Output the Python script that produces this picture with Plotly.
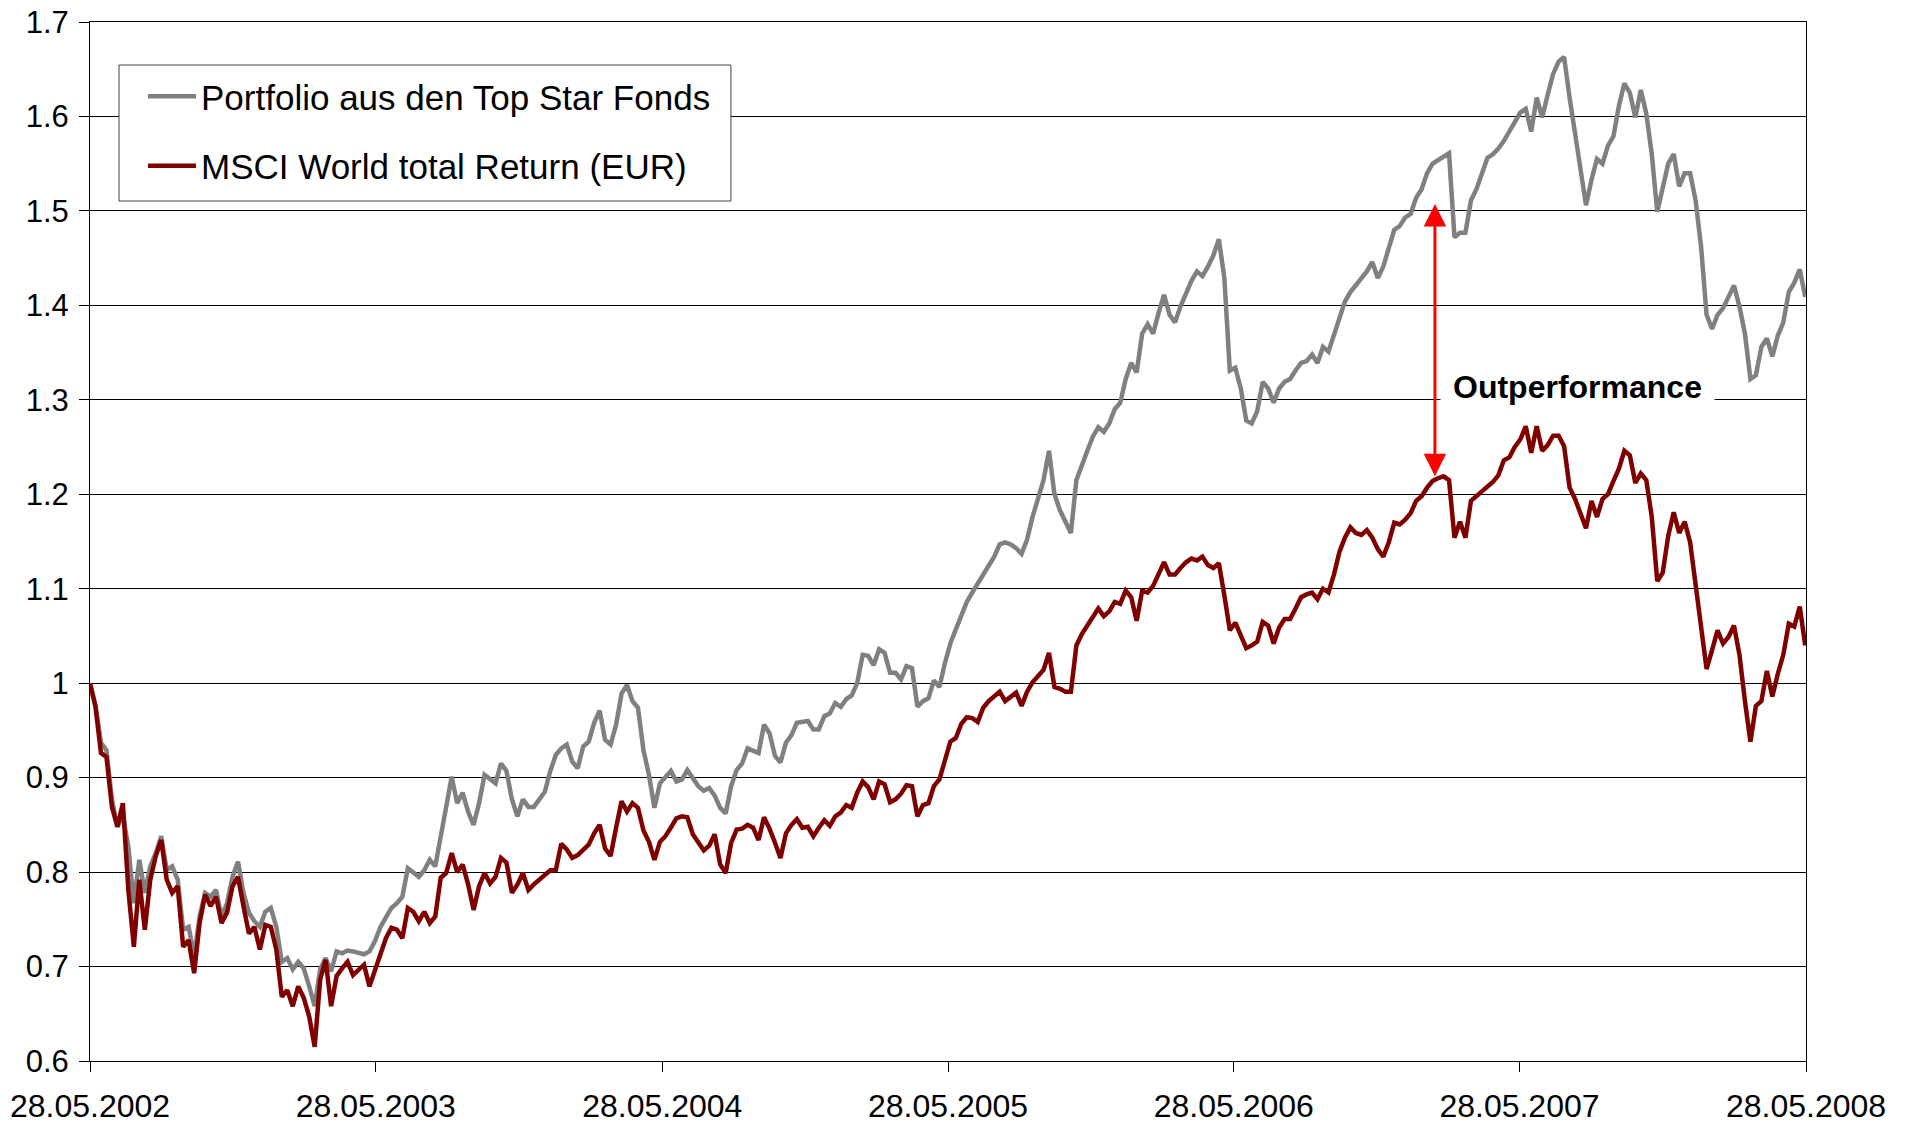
import plotly.graph_objects as go
import pandas as pd

# weekly observation dates (28.05.2002 .. 27.05.2008)
dates = pd.date_range("2002-05-28", periods=314, freq="7D")

portfolio = [
    1.00, 0.977, 0.937, 0.929, 0.877, 0.848, 0.86, 0.827, 0.767, 0.813,
    0.778, 0.806, 0.82, 0.838, 0.802, 0.806, 0.792, 0.739, 0.742, 0.711,
    0.753, 0.778, 0.774, 0.781, 0.753, 0.767, 0.795, 0.811, 0.778, 0.757,
    0.748, 0.742, 0.758, 0.762, 0.742, 0.705, 0.709, 0.697, 0.705, 0.698,
    0.679, 0.658, 0.697, 0.709, 0.695, 0.716, 0.714, 0.717, 0.716, 0.715,
    0.713, 0.716, 0.727, 0.742, 0.751, 0.762, 0.767, 0.774, 0.804, 0.799,
    0.795, 0.802, 0.813, 0.806, 0.841, 0.869, 0.901, 0.873, 0.884, 0.864,
    0.85, 0.873, 0.903, 0.898, 0.894, 0.915, 0.907, 0.877, 0.859, 0.877,
    0.869, 0.869, 0.877, 0.885, 0.907, 0.924, 0.931, 0.935, 0.917, 0.91,
    0.933, 0.938, 0.958, 0.971, 0.94, 0.935, 0.956, 0.989, 0.998, 0.981,
    0.974, 0.929, 0.903, 0.868, 0.894, 0.90, 0.907, 0.896, 0.898, 0.908,
    0.899, 0.891, 0.886, 0.889, 0.881, 0.868, 0.862, 0.891, 0.908, 0.915,
    0.931, 0.928, 0.926, 0.956, 0.947, 0.923, 0.916, 0.937, 0.945, 0.958,
    0.959, 0.96, 0.951, 0.951, 0.965, 0.968, 0.979, 0.975, 0.983, 0.987,
    1.0, 1.03, 1.029, 1.019, 1.036, 1.032, 1.011, 1.011, 1.004, 1.018,
    1.016, 0.975, 0.981, 0.984, 1.003, 0.996, 1.021,
    1.042, 1.057, 1.071, 1.086, 1.096, 1.105, 1.115, 1.125, 1.134, 1.147,
    1.149, 1.147, 1.143, 1.137, 1.152, 1.176, 1.195, 1.215, 1.246, 1.200,
    1.183, 1.171, 1.159, 1.215, 1.229, 1.246, 1.261, 1.271, 1.266, 1.275,
    1.290, 1.297, 1.322, 1.339, 1.329, 1.370, 1.380, 1.370, 1.392, 1.411,
    1.390, 1.382, 1.399, 1.414, 1.426, 1.436, 1.431, 1.441, 1.453, 1.470,
    1.429, 1.331, 1.334, 1.312, 1.278, 1.275, 1.288, 1.319, 1.312, 1.297,
    1.312, 1.319, 1.322, 1.331, 1.339, 1.341, 1.348, 1.339, 1.356, 1.351,
    1.368, 1.387, 1.404, 1.414, 1.421, 1.429, 1.436, 1.446, 1.429, 1.441,
    1.460, 1.480, 1.484, 1.493, 1.497, 1.514, 1.523, 1.540, 1.550, 1.554,
    1.557, 1.561, 1.472, 1.477, 1.477, 1.511, 1.523, 1.540, 1.556, 1.560,
    1.566, 1.574, 1.584, 1.595, 1.604, 1.608, 1.584, 1.620, 1.599, 1.623,
    1.645, 1.658, 1.663, 1.620, 1.582, 1.545, 1.506, 1.533, 1.555, 1.550,
    1.569, 1.579, 1.611, 1.635, 1.625, 1.599, 1.628, 1.603, 1.560, 1.499,
    1.526, 1.550, 1.560, 1.526, 1.540, 1.540, 1.511, 1.462, 1.390, 1.375,
    1.390, 1.397, 1.409, 1.421, 1.399, 1.370, 1.322, 1.326, 1.356, 1.365,
    1.346, 1.368, 1.382, 1.414, 1.424, 1.438, 1.409,
]

msci = [
    1.00, 0.975, 0.926, 0.922, 0.869, 0.848, 0.873, 0.781, 0.721, 0.792,
    0.739, 0.792, 0.817, 0.834, 0.792, 0.778, 0.785, 0.721, 0.728, 0.693,
    0.746, 0.776, 0.764, 0.774, 0.746, 0.757, 0.785, 0.795, 0.764, 0.735,
    0.742, 0.718, 0.744, 0.742, 0.718, 0.668, 0.675, 0.658, 0.679, 0.667,
    0.647, 0.615, 0.686, 0.707, 0.658, 0.69, 0.698, 0.705, 0.691, 0.697,
    0.702, 0.679, 0.697, 0.713, 0.73, 0.741, 0.739, 0.73, 0.762, 0.758,
    0.748, 0.758, 0.746, 0.753, 0.794, 0.799, 0.82, 0.80, 0.808, 0.787,
    0.76, 0.785, 0.799, 0.788, 0.795, 0.815, 0.81, 0.778, 0.787, 0.799,
    0.781, 0.787, 0.792, 0.797, 0.802, 0.802, 0.83, 0.824, 0.815, 0.818,
    0.824, 0.829, 0.841, 0.85, 0.825, 0.817, 0.847, 0.875, 0.864, 0.873,
    0.868, 0.844, 0.832, 0.813, 0.832, 0.838, 0.847, 0.857, 0.859, 0.858,
    0.84, 0.831, 0.823, 0.828, 0.84, 0.808, 0.799, 0.831, 0.845, 0.846,
    0.85, 0.847, 0.834, 0.858, 0.846, 0.831, 0.815, 0.841, 0.85, 0.856,
    0.847, 0.848, 0.838, 0.847, 0.855, 0.849, 0.859, 0.863, 0.871, 0.868,
    0.884, 0.896, 0.89, 0.877, 0.896, 0.893, 0.874, 0.877, 0.883, 0.892,
    0.891, 0.859, 0.871, 0.873, 0.891, 0.898, 0.919,
    0.938, 0.942, 0.957, 0.964, 0.963, 0.959, 0.974, 0.981, 0.986, 0.991,
    0.981, 0.986, 0.990, 0.976, 0.991, 1.001, 1.008, 1.014, 1.032, 0.996,
    0.994, 0.991, 0.991, 1.040, 1.052, 1.062, 1.070, 1.079, 1.071, 1.076,
    1.086, 1.084, 1.098, 1.091, 1.066, 1.098, 1.096, 1.103, 1.115, 1.128,
    1.115, 1.115, 1.122, 1.128, 1.132, 1.130, 1.134, 1.125, 1.122, 1.127,
    1.093, 1.056, 1.064, 1.049, 1.037, 1.040, 1.044, 1.065, 1.061, 1.042,
    1.059, 1.068, 1.068, 1.079, 1.091, 1.094, 1.096, 1.089, 1.100, 1.096,
    1.115, 1.139, 1.154, 1.165, 1.159, 1.157, 1.162, 1.154, 1.142, 1.134,
    1.149, 1.170, 1.168, 1.173, 1.180, 1.193, 1.198, 1.207, 1.214, 1.217,
    1.219, 1.215, 1.154, 1.171, 1.154, 1.193, 1.198, 1.204, 1.208, 1.213,
    1.220, 1.236, 1.239, 1.250, 1.258, 1.272, 1.244, 1.272, 1.246, 1.252,
    1.262, 1.262, 1.251, 1.207, 1.195, 1.181, 1.164, 1.193, 1.176, 1.195,
    1.200, 1.214, 1.227, 1.246, 1.241, 1.212, 1.222, 1.215, 1.176, 1.108,
    1.117, 1.156, 1.181, 1.159, 1.171, 1.149, 1.105, 1.059, 1.015, 1.035,
    1.056, 1.042, 1.049, 1.061, 1.030, 0.981, 0.938, 0.976, 0.981, 1.013,
    0.986, 1.010, 1.030, 1.063, 1.060, 1.081, 1.040,
]

assert len(portfolio) == len(dates) == len(msci)

series_names = ["Portfolio aus den Top Star Fonds", "MSCI World total Return (EUR)"]
series_colors = ["#808080", "#800000"]

x_tick_dates = ["2002-05-28", "2003-05-28", "2004-05-28", "2005-05-28",
                "2006-05-28", "2007-05-28", "2008-05-28"]
x_tick_labels = ["28.05.2002", "28.05.2003", "28.05.2004", "28.05.2005",
                 "28.05.2006", "28.05.2007", "28.05.2008"]
y_tick_vals = [0.6, 0.7, 0.8, 0.9, 1.0, 1.1, 1.2, 1.3, 1.4, 1.5, 1.6, 1.7]
y_tick_labels = ["0.6", "0.7", "0.8", "0.9", "1", "1.1", "1.2", "1.3",
                 "1.4", "1.5", "1.6", "1.7"]

# Outperformance marker (date, low and high value) and label
arrow_date = "2007-02-09"
arrow_low = 1.219
arrow_high = 1.509
label_date = "2007-08-10"
label_value = 1.314
label_text = "Outperformance"

FONT = "Liberation Sans, Arial, sans-serif"

fig = go.Figure()
for i, (name, vals) in enumerate(zip(series_names, [portfolio, msci])):
    fig.add_trace(go.Scatter(
        x=dates, y=vals, mode="lines", name=name,
        legendgroup=f"g{i}",
        line=dict(color=series_colors[i], width=4.5),
    ))

fig.update_layout(
    width=1905, height=1123,
    margin=dict(l=90, r=99, t=22, b=62, autoexpand=False),
    paper_bgcolor="white", plot_bgcolor="white",
    font=dict(family=FONT, color="black"),
    showlegend=True,
    legend=dict(
        x=0.0309, y=0.9566, xanchor="left", yanchor="top",
        bgcolor="rgba(0,0,0,0)", borderwidth=0,
        font=dict(size=35, family=FONT, color="black"),
        tracegroupgap=21, traceorder="grouped", itemwidth=48,
    ),
    xaxis=dict(
        type="date", range=[x_tick_dates[0], x_tick_dates[-1]],
        tickvals=x_tick_dates, ticktext=x_tick_labels,
        ticks="outside", ticklen=10, tickcolor="black", tickwidth=1,
        showline=True, linecolor="black", linewidth=1, mirror=True,
        showgrid=False, zeroline=False, ticklabelstandoff=7,
        tickfont=dict(size=32, family=FONT, color="black"),
    ),
    yaxis=dict(
        range=[0.6, 1.7], tickvals=y_tick_vals, ticktext=y_tick_labels,
        ticks="outside", ticklen=10, tickcolor="black", tickwidth=1,
        showline=True, linecolor="black", linewidth=1, mirror=True,
        showgrid=True, gridcolor="#000000", gridwidth=1, zeroline=False,
        ticklabelstandoff=4,
        tickfont=dict(size=31, family=FONT, color="black"),
    ),
)

# legend frame
fig.add_shape(
    type="rect", xref="paper", yref="paper",
    x0=0.0169, x1=0.3735, y0=0.8277, y1=0.9586,
    fillcolor="white", line=dict(color="#404040", width=1), layer="above",
)

fig.add_annotation(
    x=arrow_date, y=arrow_low, ax=arrow_date, ay=arrow_high,
    xref="x", yref="y", axref="x", ayref="y",
    text="", showarrow=True, arrowhead=2, startarrowhead=2,
    arrowside="end+start", arrowsize=1.5, startarrowsize=1.5, arrowwidth=3,
    arrowcolor="#FF0000", standoff=0, startstandoff=0,
)
fig.add_annotation(
    x=label_date, y=label_value, xref="x", yref="y",
    text=f"<b>{label_text}</b>", showarrow=False,
    bgcolor="white", borderpad=12,
    font=dict(size=32, family=FONT, color="black"),
)

fig.write_html(
    "out.html",
    config={"displayModeBar": False},
    post_script="document.body.style.margin='0';document.body.style.overflow='hidden';",
)
